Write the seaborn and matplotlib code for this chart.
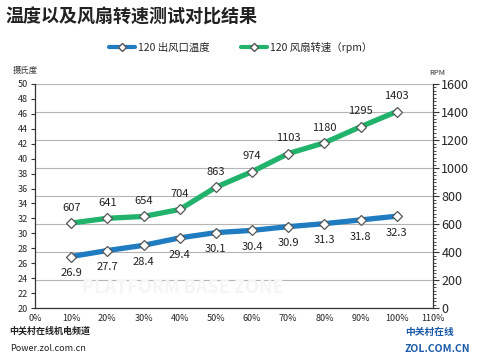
import matplotlib.pyplot as plt
import matplotlib.ticker as mticker
import pandas as pd
import seaborn as sns

# 数据
load_pct = [10, 20, 30, 40, 50, 60, 70, 80, 90, 100]
outlet_temp = [26.9, 27.7, 28.4, 29.4, 30.1, 30.4, 30.9, 31.3, 31.8, 32.3]
fan_rpm = [607, 641, 654, 704, 863, 974, 1103, 1180, 1295, 1403]

temp_label = "120 出风口温度"
rpm_label = "120 风扇转速（rpm）"

BLUE = "#1f7cc1"
GREEN = "#21b36b"

sns.set_theme(style="white")
plt.rcParams["font.family"] = ["Noto Sans CJK SC", "DejaVu Sans"]

df = pd.DataFrame({"load": load_pct, "temp": outlet_temp, "rpm": fan_rpm})

fig = plt.figure(figsize=(4.82, 3.62), dpi=100)
ax = fig.add_axes([0.0726, 0.149, 0.8257, 0.619])
ax2 = ax.twinx()

sns.lineplot(data=df, x="load", y="temp", ax=ax, color=BLUE, linewidth=3.8,
             marker="D", markersize=5.5, markerfacecolor="white",
             markeredgecolor="#555555", markeredgewidth=0.9, zorder=5)
sns.lineplot(data=df, x="load", y="rpm", ax=ax2, color=GREEN, linewidth=3.8,
             marker="D", markersize=5.5, markerfacecolor="white",
             markeredgecolor="#555555", markeredgewidth=0.9, zorder=5)

ax.set_xlim(0, 110)
ax.set_ylim(20, 50)
ax2.set_ylim(0, 1600)
ax.set_xticks(range(0, 111, 10))
ax.xaxis.set_major_formatter(mticker.FuncFormatter(lambda v, p: f"{int(v)}%"))
ax.set_yticks(range(20, 51, 2))
ax2.set_yticks(range(0, 1601, 200))
ax2.yaxis.set_minor_locator(mticker.MultipleLocator(25))

# 网格线跟随右轴
ax2.yaxis.grid(True, color="#b5b5b5", linewidth=0.8)
ax2.set_axisbelow(True)
ax.set_zorder(ax2.get_zorder() + 1)
ax.patch.set_visible(False)

for a in (ax, ax2):
    a.set_xlabel("")
    a.set_ylabel("")
    a.spines["top"].set_visible(False)
    for s in a.spines.values():
        s.set_color("#333333")
        s.set_linewidth(0.9)
ax.spines["right"].set_visible(False)
ax2.spines["left"].set_visible(False)
ax2.spines["bottom"].set_visible(False)

ax.tick_params(axis="y", direction="out", length=3, width=0.8, color="#333333",
               labelsize=6.5, pad=2, left=True)
ax.tick_params(axis="x", direction="out", length=0, labelsize=6.5, pad=4)
ax2.tick_params(axis="y", which="major", direction="out", length=4, width=0.8,
                color="#333333", labelsize=9, pad=2, right=True)
ax2.tick_params(axis="y", which="minor", direction="out", length=2, width=0.6,
                color="#333333", right=True)

if ax.get_legend():
    ax.get_legend().remove()
if ax2.get_legend():
    ax2.get_legend().remove()

# 数据标签
for x, t in zip(load_pct, outlet_temp):
    ax.annotate(f"{t}", (x, t), textcoords="offset points", xytext=(0, -12),
                ha="center", va="center", fontsize=8, color="#222222")
for x, r in zip(load_pct, fan_rpm):
    ax2.annotate(f"{r}", (x, r), textcoords="offset points", xytext=(0, 11),
                 ha="center", va="center", fontsize=8, color="#222222")

# 水印
fig.text(0.38, 0.205, "PLATFORM BASE ZONE", fontsize=13, color="#f4f6f4",
         fontweight="bold", ha="center", va="center", zorder=0)

# 标题与图例
fig.text(0.012, 0.952, "温度以及风扇转速测试对比结果", fontsize=13,
         fontweight="bold", color="#222222", ha="left", va="center")
handles = [
    plt.Line2D([], [], color=BLUE, linewidth=3, marker="D", markersize=4,
               markerfacecolor="white", markeredgecolor="#555555"),
    plt.Line2D([], [], color=GREEN, linewidth=3, marker="D", markersize=4,
               markerfacecolor="white", markeredgecolor="#555555"),
]
fig.legend(handles, [temp_label, rpm_label], loc="center",
           bbox_to_anchor=(0.5, 0.87), ncol=2, frameon=False, fontsize=7.5,
           handlelength=2.5, columnspacing=3, handletextpad=0.3)

fig.text(0.027, 0.806, "摄氏度", fontsize=6, color="#333333", va="center")
fig.text(0.89, 0.797, "RPM", fontsize=5.5, color="#333333", va="center")

# 页脚
fig.text(0.02, 0.085, "中关村在线机电频道", fontsize=6.5, fontweight="bold",
         color="#222222", va="center")
fig.text(0.02, 0.037, "Power.zol.com.cn", fontsize=6.5, color="#222222",
         va="center")
fig.text(0.84, 0.083, "中关村在线", fontsize=7, fontweight="bold",
         color="#1a5aa8", va="center")
fig.text(0.84, 0.037, "ZOL.COM.CN", fontsize=7.5, fontweight="bold",
         color="#1a5aa8", va="center")

fig.savefig("out.png", dpi=100)
